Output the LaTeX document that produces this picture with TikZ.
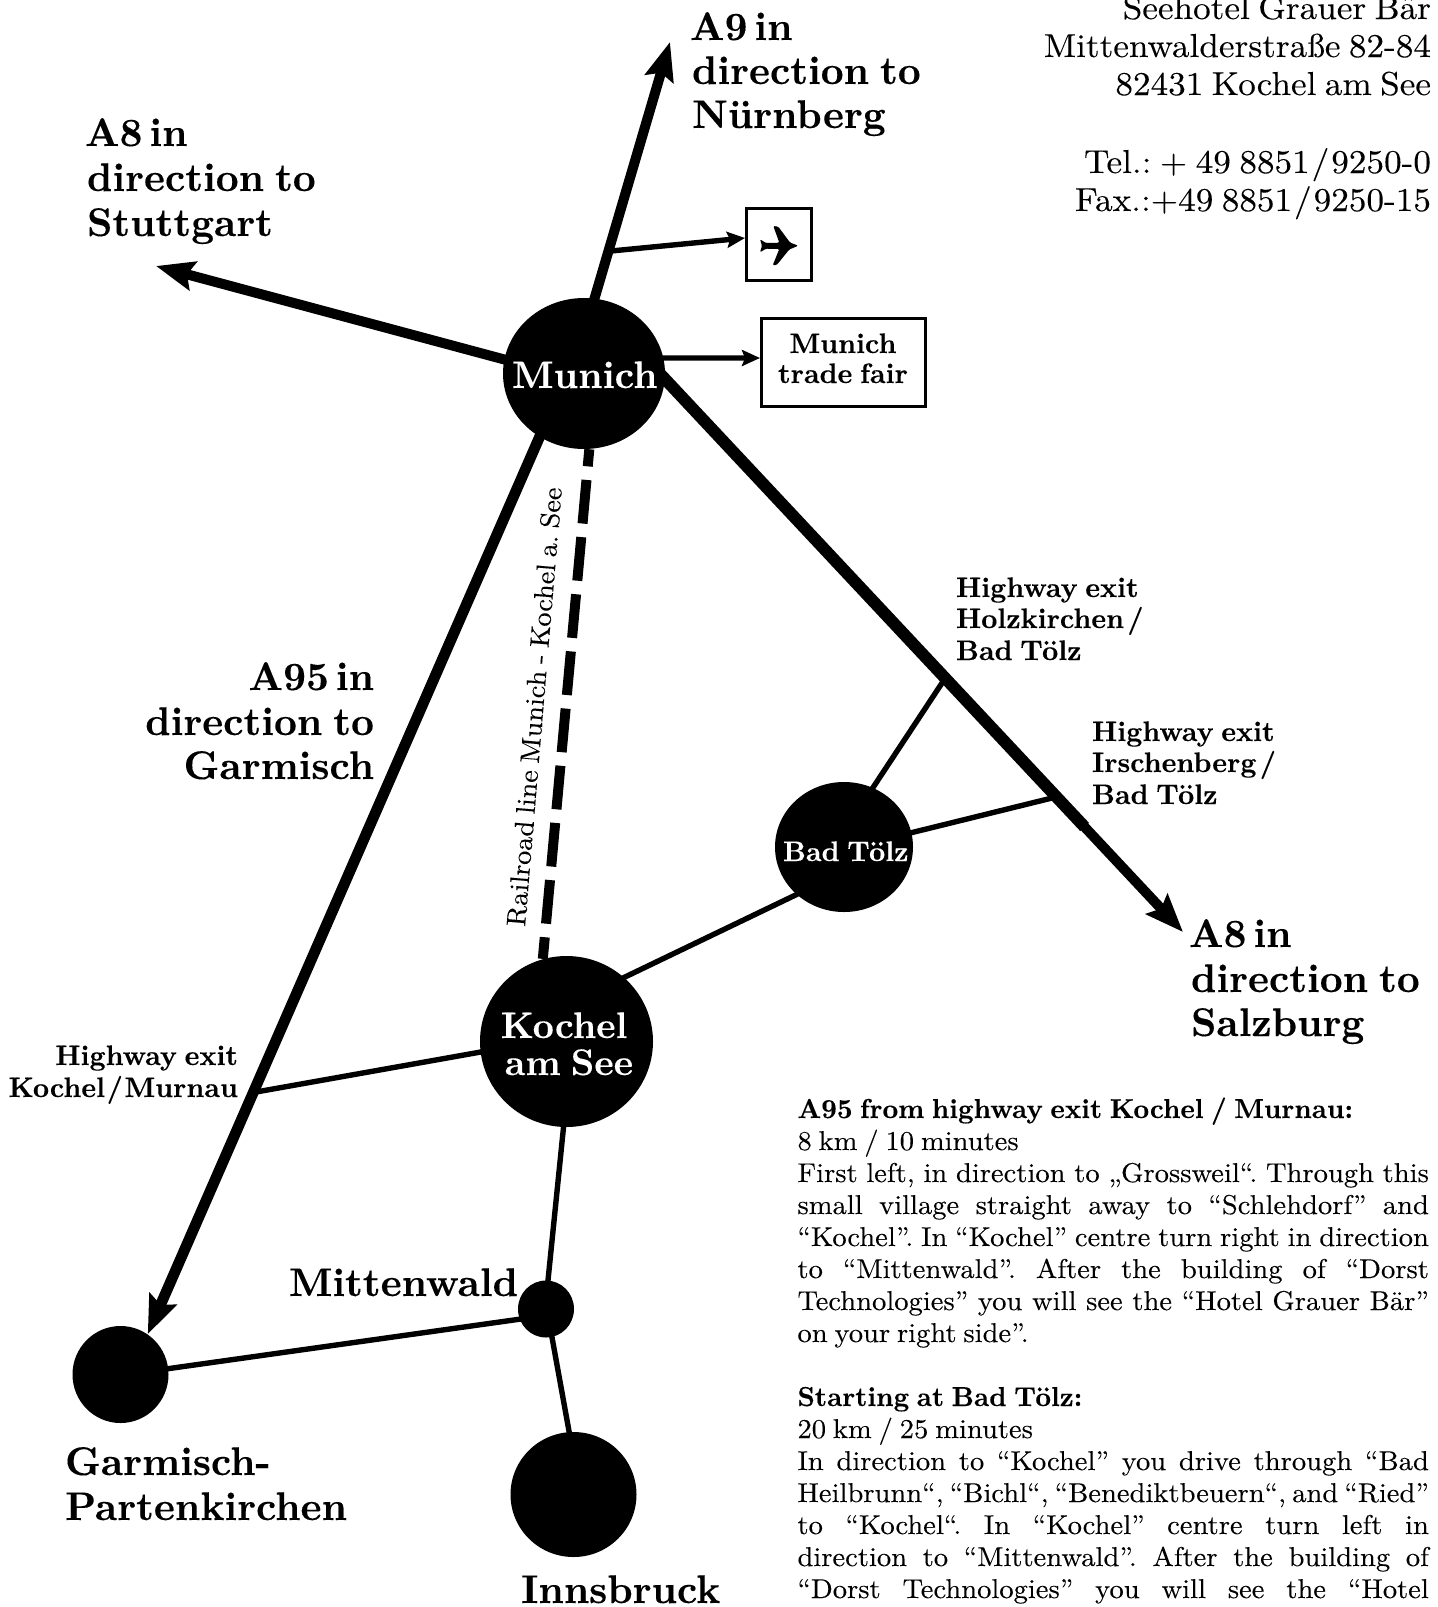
\documentclass[tikz,border=0pt]{standalone}
\usepackage{fontspec}
\newfontfamily\fb{lmroman10-bold}[Extension=.otf,FakeBold=0.2,FakeStretch=0.995,WordSpace=0.72]
\newfontfamily\fr{lmroman10-regular}[Extension=.otf,FakeBold=0.12,FakeStretch=1.05,WordSpace=0.72]
\newfontfamily\fa{lmroman10-regular}[Extension=.otf,FakeBold=0.12,FakeStretch=1.06,WordSpace=0.72]
\usetikzlibrary{shapes.geometric,arrows.meta,calc,backgrounds}
\newcommand{\fs}[1]{\fontsize{#1}{#1}\selectfont}
\newcommand{\jl}[1]{\makebox[315.7pt][s]{#1}}
\newcommand{\tsl}{\hspace{0.12em}/\hspace{0.12em}}
\newcommand{\tsk}{\hspace{0.06em}/\hspace{0.06em}}
\tikzset{
  city/.style={ellipse,fill=black,draw=none,inner sep=0pt},
  roadthick/.style={line width=5pt,draw=black},
  roadthin/.style={line width=2.7pt,draw=black,shorten <=-3pt,shorten >=-3pt},
  bighead/.style={-{Stealth[length=19pt,width=14.5pt,inset=3pt]}},
  smallhead/.style={-{Stealth[length=9pt,width=8pt,inset=1.5pt]}},
  txt/.style={inner sep=0pt,outer sep=0pt,anchor=base west},
  txtr/.style={inner sep=0pt,outer sep=0pt,anchor=base east},
  txtc/.style={inner sep=0pt,outer sep=0pt,anchor=base},
  bigb/.style={font=\fb\fs{20}},
  midb/.style={font=\fb\fs{14.1}},
  addr/.style={font=\fa\fs{16.6}},
  body/.style={font=\fr\fs{13.6}},
  bodyb/.style={font=\fb\fs{13.7}},
  whitec/.style={text=white},
  boxed/.style={draw=black,line width=1.5pt,fill=white,inner sep=0pt},
}
\begin{document}
\frenchspacing
\begin{tikzpicture}[x=0.5pt,y=-0.5pt]
\useasboundingbox (0,0) rectangle (1438,1607);
% cities
\node[city,minimum width=81pt,minimum height=75.5pt] (munich) at (584,373.5) {};
\node[city,minimum width=86.5pt,minimum height=85.5pt] (kochel) at (566.5,1041.5) {};
\node[city,minimum width=69pt,minimum height=65pt] (toelz) at (844,847) {};
\node[city,minimum width=48pt,minimum height=48.5pt] (garmisch) at (120.5,1374.5) {};
\node[city,minimum width=28pt,minimum height=28.5pt] (mittenwald) at (546,1309) {};
\node[city,minimum width=63pt,minimum height=62.5pt] (innsbruck) at (573.5,1494.5) {};
% boxes
\node[boxed,minimum width=32.5pt,minimum height=36pt] (planebox) at (779,244.5) {};
\node[boxed,minimum width=82pt,minimum height=44pt] (fairbox) at (843.5,362) {};
% free ends
\coordinate (a9tip) at (670,42);
\coordinate (a8wtip) at (156,266);
\coordinate (a8etip) at (1183,932);
\coordinate (a9branch) at (611,251);
\coordinate (exitA) at (942,683);
\coordinate (exitB) at (1052,798);
\coordinate (exitK) at (256,1092);
\begin{pgfonlayer}{background}
\draw[roadthick,bighead,shorten <=-4pt] (munich.82) -- (a9tip);
\draw[roadthick,bighead,shorten <=-4pt] (munich.170) -- (a8wtip);
\draw[roadthick,bighead,shorten <=-4pt] (munich.-4) -- (a8etip);
\draw[line width=6pt,shorten <=-4pt] (munich.-4) -- ($(munich.-4)!.81!(a8etip)$);
\draw[roadthick,bighead,line width=5.4pt,shorten <=-4pt] (munich.235) -- (garmisch.56);
\draw[line width=5pt,dash pattern=on 21.9pt off 6.8pt,dash phase=13.3pt] (munich.-86) -- (kochel.106);
\draw[line width=2.7pt,smallhead] (a9branch) -- (planebox.west |- 0,238);
\draw[line width=2.7pt,smallhead,shorten <=-3pt] (munich.11) -- (fairbox.west |- 0,358);
\draw[roadthin] (kochel.48) -- (toelz.225);
\draw[roadthin] (kochel.187) -- (exitK);
\draw[roadthin] (toelz.64) -- (exitA);
\draw[roadthin] (toelz.12) -- (exitB);
\draw[roadthin] (kochel.-92) -- (mittenwald.86);
\draw[roadthin] (mittenwald.201) -- (garmisch.7);
\draw[roadthin] (mittenwald.-78) -- (innsbruck.94);
\end{pgfonlayer}
% plane icon
\fill[black,rounded corners=0.6pt] (798.3,245.7) -- (790,242.5) -- (778.3,226.7) -- (773.3,226) -- (779.3,242.7) -- (766,243) -- (760,239.3) -- (762,245.7) -- (760,252.3) -- (766,248.7) -- (779.3,249) -- (772.7,265.3) -- (776.7,265) -- (789.3,249.5) -- cycle;
% city labels
\node[txt,whitec,font=\fb\fs{19.2}] (tmunich) at (512,388) {Munich};
\node[txtc,whitec,font=\fb\fs{18.5}] (tkochel) at (564,1038) {Kochel};
\node[txtc,whitec,font=\fb\fs{18.5}] (tamsee) at (569,1075) {am See};
\node[txt,whitec,midb] (ttoelz) at (783,861) {Bad Tölz};
\node[txtc,midb] (tfair1) at (843,353) {Munich};
\node[txtc,midb] (tfair2) at (843,383) {trade fair};
% big labels
\node[txt,bigb] (a91) at (690,40) {A9\kern-.1em\ in};
\node[txt,bigb] (a92) at (692,84) {direction to};
\node[txt,bigb] (a93) at (692,128) {Nürnberg};
\node[txt,bigb] (a81) at (85,146) {A8\kern-.1em\ in};
\node[txt,bigb] (a82) at (87,191) {direction to};
\node[txt,bigb] (a83) at (87,236) {Stuttgart};
\node[txtr,bigb] (g1) at (374,690) {A95\kern-.1em\ in};
\node[txtr,bigb] (g2) at (374,735) {direction to};
\node[txtr,bigb] (g3) at (374,779) {Garmisch};
\node[txt,bigb] (s1) at (1189,947) {A8\kern-.1em\ in};
\node[txt,bigb] (s2) at (1191,992) {direction to};
\node[txt,bigb] (s3) at (1191,1036) {Salzburg};
\node[txtr,bigb] (tmit) at (518,1296) {Mittenwald};
\node[txt,bigb] (tg1) at (65,1475) {Garmisch-};
\node[txt,bigb] (tg2) at (65,1520) {Partenkirchen};
\node[txt,bigb] (tinn) at (521,1603) {Innsbruck};
% exits
\node[txt,midb] (e11) at (956,597) {Highway exit};
\node[txt,midb] (e12) at (956,628) {Holzkirchen\tsl};
\node[txt,midb] (e13) at (956,660) {Bad Tölz};
\node[txt,midb] (e21) at (1092,741) {Highway exit};
\node[txt,midb] (e22) at (1092,772) {Irschenberg\tsl};
\node[txt,midb] (e23) at (1092,804) {Bad Tölz};
\node[txtr,midb] (e31) at (238,1065) {Highway exit};
\node[txtr,midb] (e32) at (238,1097) {Kochel\tsk Murnau};
% rail
\node[txt,rotate=85.2,font=\fr\fs{13.5}] (rail) at (525,927) {Railroad line Munich - Kochel a. See};
% address
\node[txtr,addr] (ad1) at (1431,19) {Seehotel Grauer Bär};
\node[txtr,addr] (ad2) at (1431,57) {Mittenwalderstraße 82-84};
\node[txtr,addr] (ad3) at (1431,95) {82431 Kochel am See};
\node[txtr,addr] (ad4) at (1431,173) {Tel.: + 49 8851\tsk 9250-0};
\node[txtr,addr] (ad5) at (1431,211) {Fax.:+49 8851\tsk 9250-15};
% directions
\node[txt,bodyb] (p1) at (797.5,1118) {A95 from highway exit Kochel / Murnau:};
\node[txt,body] (p2) at (797.5,1150) {8 km / 10 minutes};
\node[txt,body] (p3) at (797.5,1182) {\jl{First left, in direction to „Grossweil“. Through this}};
\node[txt,body] (p4) at (797.5,1214) {\jl{small village straight away to “Schlehdorf” and}};
\node[txt,body] (p5) at (797.5,1246) {\jl{“Kochel”. In “Kochel” centre turn right in direction}};
\node[txt,body] (p6) at (797.5,1278) {\jl{to “Mittenwald”. After the building of “Dorst}};
\node[txt,body] (p7) at (797.5,1310) {\jl{Technologies” you will see the “Hotel Grauer Bär”}};
\node[txt,body] (p8) at (797.5,1342) {on your right side”.};
\node[txt,bodyb] (q1) at (797.5,1406) {Starting at Bad Tölz:};
\node[txt,body] (q2) at (797.5,1438) {20 km / 25 minutes};
\node[txt,body] (q3) at (797.5,1470) {\jl{In direction to “Kochel” you drive through “Bad}};
\node[txt,body] (q4) at (797.5,1502) {\jl{Heilbrunn“, “Bichl“, “Benediktbeuern“, and “Ried”}};
\node[txt,body] (q5) at (797.5,1534) {\jl{to “Kochel“. In “Kochel” centre turn left in}};
\node[txt,body] (q6) at (797.5,1566) {\jl{direction to “Mittenwald”. After the building of}};
\node[txt,body] (q7) at (797.5,1598) {\jl{“Dorst Technologies” you will see the “Hotel}};
\end{tikzpicture}
\end{document}
